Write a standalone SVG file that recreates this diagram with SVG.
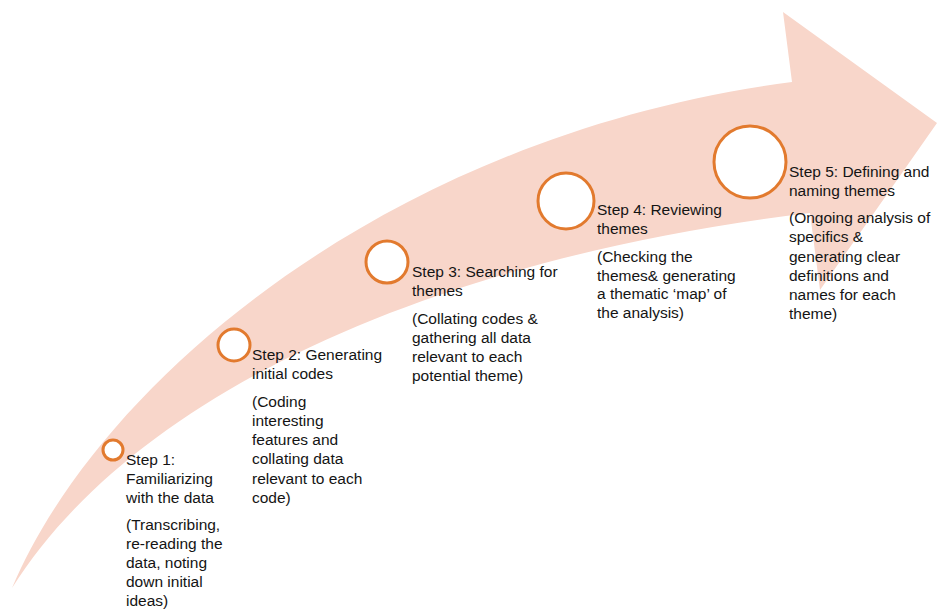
<svg xmlns="http://www.w3.org/2000/svg" width="938" height="614" viewBox="0 0 938 614">
<style>
  .arrow { fill: #f8d6ca; stroke: none; }
  .dot { fill: #ffffff; stroke: #e27a2e; stroke-width: 3; }
  .t { font-family: "Liberation Sans", Arial, sans-serif; font-size: 15.5px; fill: #141414; }
</style>
<rect width="938" height="614" fill="#ffffff"/>
<g id="arrow">
  <path class="arrow" d="M12,588 C100,380 390,135 792,82 L783,12 L937,123 L820,290 L810,213 C420,260 130,400 12,588 Z"/>
</g>
<g id="step1">
  <circle class="dot" cx="113" cy="450" r="10"/>
  <text class="t" x="126" y="465">Step 1:</text>
  <text class="t" x="126" y="484">Familiarizing</text>
  <text class="t" x="126" y="503">with the data</text>
  <text class="t" x="126" y="530">(Transcribing,</text>
  <text class="t" x="126" y="549">re-reading the</text>
  <text class="t" x="126" y="568">data, noting</text>
  <text class="t" x="126" y="587">down initial</text>
  <text class="t" x="126" y="606">ideas)</text>
</g>
<g id="step2">
  <circle class="dot" cx="234" cy="345" r="16"/>
  <text class="t" x="252" y="360">Step 2: Generating</text>
  <text class="t" x="252" y="379">initial codes</text>
  <text class="t" x="252" y="407">(Coding</text>
  <text class="t" x="252" y="426">interesting</text>
  <text class="t" x="252" y="445">features and</text>
  <text class="t" x="252" y="464">collating data</text>
  <text class="t" x="252" y="484">relevant to each</text>
  <text class="t" x="252" y="503">code)</text>
</g>
<g id="step3">
  <circle class="dot" cx="387" cy="262" r="21"/>
  <text class="t" x="412" y="277">Step 3: Searching for</text>
  <text class="t" x="412" y="296">themes</text>
  <text class="t" x="412" y="324">(Collating codes &amp;</text>
  <text class="t" x="412" y="343">gathering all data</text>
  <text class="t" x="412" y="362">relevant to each</text>
  <text class="t" x="412" y="381">potential theme)</text>
</g>
<g id="step4">
  <circle class="dot" cx="566" cy="201" r="28"/>
  <text class="t" x="597" y="215">Step 4: Reviewing</text>
  <text class="t" x="597" y="234">themes</text>
  <text class="t" x="597" y="262">(Checking the</text>
  <text class="t" x="597" y="281">themes&amp; generating</text>
  <text class="t" x="597" y="299">a thematic ‘map’ of</text>
  <text class="t" x="597" y="318">the analysis)</text>
</g>
<g id="step5">
  <circle class="dot" cx="750" cy="162" r="36"/>
  <text class="t" x="789" y="177">Step 5: Defining and</text>
  <text class="t" x="789" y="196">naming themes</text>
  <text class="t" x="789" y="223">(Ongoing analysis of</text>
  <text class="t" x="789" y="242">specifics &amp;</text>
  <text class="t" x="789" y="262">generating clear</text>
  <text class="t" x="789" y="281">definitions and</text>
  <text class="t" x="789" y="300">names for each</text>
  <text class="t" x="789" y="319">theme)</text>
</g>
</svg>
